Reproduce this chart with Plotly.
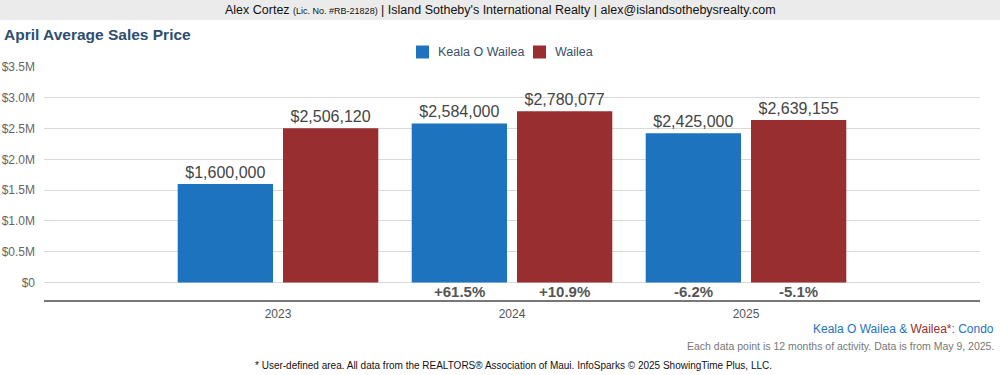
import plotly.graph_objects as go

years = ["2023", "2024", "2025"]
series_names = ["Keala O Wailea", "Wailea"]
keala = [1600000, 2584000, 2425000]
wailea = [2506120, 2780077, 2639155]
y_tickvals = [0, 500000, 1000000, 1500000, 2000000, 2500000, 3000000, 3500000]
y_ticktext = ["$0", "$0.5M", "$1.0M", "$1.5M", "$2.0M", "$2.5M", "$3.0M", "$3.5M"]

BLUE = "#1e73be"
RED = "#982e30"
W, H = 1000, 375
L, R, T, B = 44, 20, 67, 74
PW, PH = W - L - R, H - T - B
FONT = "Liberation Sans, Arial, Helvetica"

def px(x):
    return (x - L) / PW

def py(y):
    return (H - B - y) / PH

fig = go.Figure()
for name, vals, col in [(series_names[0], keala, BLUE), (series_names[1], wailea, RED)]:
    fig.add_trace(go.Bar(
        x=years, y=vals, name=name, marker=dict(color=col, line=dict(width=0)),
        texttemplate="$%{y:,.0f}", textposition="outside",
        textfont=dict(size=16, color="#444444", family=FONT),
        cliponaxis=False, hoverinfo="skip", showlegend=False,
    ))

annotations = []
# percent change labels
for i in range(1, len(years)):
    for vals, off in [(keala, -0.224), (wailea, 0.224)]:
        pct = (vals[i] / vals[i - 1] - 1) * 100
        annotations.append(dict(
            x=i + off, y=-150000, xref="x", yref="y", text=f"<b>{pct:+.1f}%</b>",
            showarrow=False, font=dict(size=15, color="#555555", family=FONT),
            xanchor="center", yanchor="middle"))

shapes = [
    dict(type="rect", xref="paper", yref="paper", x0=px(0), x1=px(W), y0=py(0), y1=py(20),
         fillcolor="#ebebeb", line=dict(width=0), layer="below"),
    dict(type="line", xref="paper", yref="paper", x0=0, x1=1, y0=0, y1=0,
         line=dict(color="#777777", width=2)),
]

# manual legend
legend_items = [(series_names[0], BLUE, 416), (series_names[1], RED, 533)]
for name, col, x0 in legend_items:
    shapes.append(dict(type="rect", xref="paper", yref="paper",
                       x0=px(x0), x1=px(x0 + 13), y0=py(45.5), y1=py(58.5),
                       fillcolor=col, line=dict(width=0)))
    annotations.append(dict(x=px(x0 + 20), y=py(52), xref="paper", yref="paper", showarrow=False,
                            text=name, font=dict(size=12.5, color="#3a4f6a", family=FONT),
                            xanchor="left", yanchor="middle"))

annotations += [
    dict(x=px(500), y=py(10), xref="paper", yref="paper", showarrow=False,
         text="Alex Cortez <span style='font-size:9px'>(Lic. No. #RB-21828)</span> | Island Sotheby's International Realty | alex@islandsothebysrealty.com",
         font=dict(size=12.5, color="#111111", family=FONT),
         xanchor="center", yanchor="middle"),
    dict(x=px(2), y=py(34), xref="paper", yref="paper", showarrow=False,
         text="<b>April Average Sales Price</b>",
         font=dict(size=15.5, color="#2d4d72", family=FONT),
         xanchor="left", yanchor="middle"),
    dict(x=px(996), y=py(329), xref="paper", yref="paper", showarrow=False,
         text=f"Keala O Wailea &amp; <span style='color:{RED}'>Wailea*</span>: Condo",
         font=dict(size=12, color=BLUE, family=FONT),
         xanchor="right", yanchor="middle"),
    dict(x=px(996), y=py(346), xref="paper", yref="paper", showarrow=False,
         text="Each data point is 12 months of activity. Data is from May 9, 2025.",
         font=dict(size=10.5, color="#777777", family=FONT),
         xanchor="right", yanchor="middle"),
    dict(x=px(513), y=py(365), xref="paper", yref="paper", showarrow=False,
         text="* User-defined area. All data from the REALTORS® Association of Maui. InfoSparks © 2025 ShowingTime Plus, LLC.",
         font=dict(size=10, color="#111111", family=FONT),
         xanchor="center", yanchor="middle"),
]

fig.update_layout(
    width=W, height=H,
    margin=dict(l=L, r=R, t=T, b=B, pad=0, autoexpand=False),
    paper_bgcolor="white", plot_bgcolor="white",
    barmode="group", bargap=0.10, bargroupgap=0.095,
    font=dict(family=FONT, color="#555555"),
    showlegend=False,
    xaxis=dict(type="category", range=[-1, 3], showgrid=False, zeroline=False, showline=False,
               ticks="", tickfont=dict(size=12, color="#555555"), ticklabelstandoff=4,
               automargin=False),
    yaxis=dict(range=[-300000, 3500000], tickvals=y_tickvals, ticktext=y_ticktext,
               showgrid=True, gridcolor="#d9d9d9", gridwidth=1, zeroline=False, showline=False,
               tickfont=dict(size=12, color="#666666"), ticklabelstandoff=8, automargin=False),
    annotations=annotations, shapes=shapes,
)

fig.write_html("out.html", config={"displayModeBar": False},
               post_script="document.body.style.margin='0';document.body.style.overflow='hidden';")
